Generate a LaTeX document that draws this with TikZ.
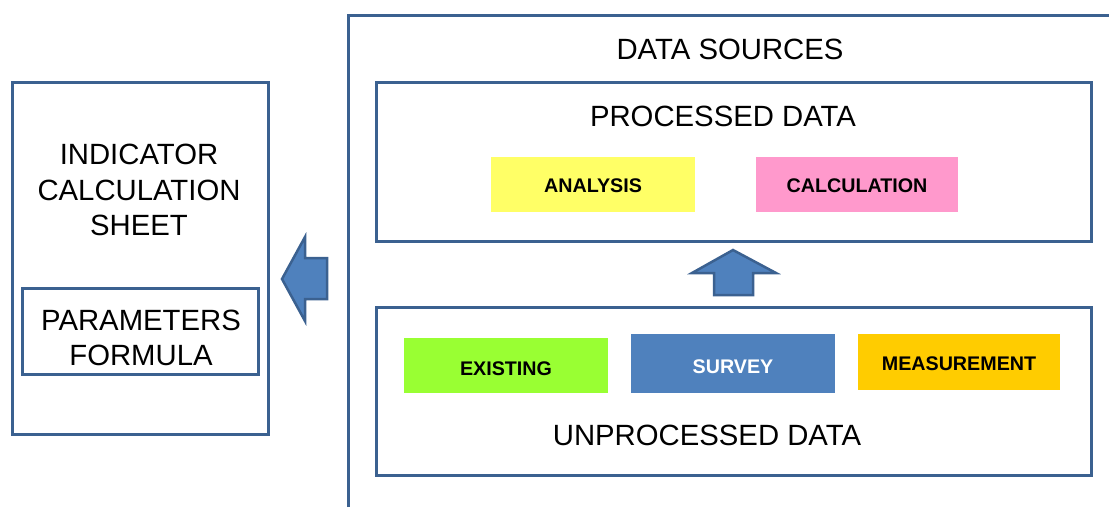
\documentclass[tikz,border=0pt]{standalone}
\usepackage{fontspec}
\setmainfont{Liberation Sans}
\definecolor{lc}{HTML}{3B6190}
\definecolor{af}{HTML}{4F81BD}
\definecolor{cyel}{HTML}{FFFF66}
\definecolor{cpink}{HTML}{FF99CC}
\definecolor{cgreen}{HTML}{99FF33}
\definecolor{cblue}{HTML}{4F81BD}
\definecolor{corange}{HTML}{FFCC00}
\begin{document}
\begin{tikzpicture}[x=1pt,y=-1pt,
  frame/.style={draw=lc,line width=3pt},
  big/.style={font=\fontsize{29.3}{35.5}\selectfont,align=center,inner sep=0pt},
  tag/.style={font=\bfseries\fontsize{19.7}{22}\selectfont,inner sep=0pt},
  arrowshape/.style={draw=lc,fill=af,line width=2.5pt,line join=miter}]
\useasboundingbox (0,0) rectangle (1109,507);
% left box
\draw[frame] (12,82) rectangle (268,434);
\node[big] (ind) at (139,190) {INDICATOR\\CALCULATION\\SHEET};
\draw[frame] (22,288) rectangle (258,374);
\node[big] (par) at (141,338) {PARAMETERS\\FORMULA};
% data sources frame
\draw[frame] (348,507) -- (348,15) -- (1109,15);
\node[big] (ds) at (730,49) {DATA SOURCES};
% processed
\draw[frame] (376,82) rectangle (1091,241);
\node[big] (pd) at (723,116) {PROCESSED DATA};
\fill[cyel] (491,157) rectangle (695,212);
\node[tag] (an) at (593,186) {ANALYSIS};
\fill[cpink] (756,157) rectangle (958,212);
\node[tag] (ca) at (857,186) {CALCULATION};
% unprocessed
\draw[frame] (376,307) rectangle (1091,475);
\node[big] (ud) at (707,435) {UNPROCESSED DATA};
\fill[cgreen] (404,338) rectangle (608,393);
\node[tag] (ex) at (506,369) {EXISTING};
\fill[cblue] (631,334) rectangle (835,393);
\node[tag,text=white] (su) at (733,367) {SURVEY};
\fill[corange] (858,334) rectangle (1060,390);
\node[tag] (me) at (959,364) {MEASUREMENT};
% arrows
\draw[arrowshape] (282,279) -- (305,237) -- (305,258) -- (327,258) -- (327,299) -- (305,299) -- (305,321) -- cycle;
\draw[arrowshape] (733,250) -- (776,273) -- (753,273) -- (753,295) -- (714,295) -- (714,273) -- (692,273) -- cycle;
\end{tikzpicture}
\end{document}
